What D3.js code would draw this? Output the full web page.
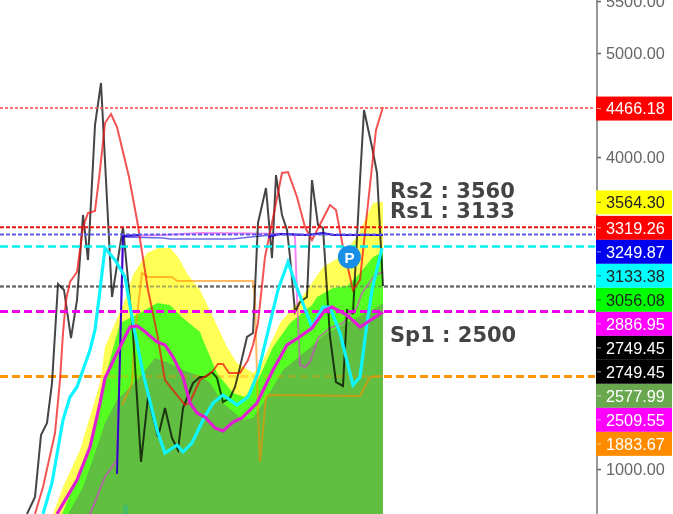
<!DOCTYPE html>
<html><head><meta charset="utf-8">
<script src="https://cdn.jsdelivr.net/npm/d3@7/dist/d3.min.js"></script>
<style>html,body{margin:0;padding:0;background:#fff;overflow:hidden}svg{display:block;filter:blur(0.4px)}</style>
</head><body><svg id="c" width="673" height="514"></svg>
<script>
// Series: [bar, price]
const closeLine=[[13.5,568],[17.5,731],[20.5,1327],[23.5,1443],[26,1827],[29,2779],[32,2722],[35.5,2260],[38.5,2625],[41.5,3443],[44,3010],[47.5,4308],[50.5,4712],[56,2654],[61.5,3327],[66.5,2308],[70.5,1068],[74,1693],[79,1308],[82.5,1587],[86,1299],[89,1183],[91.5,1587],[96.5,1827],[100,1885],[102.5,1885],[106,1933],[108.5,1876],[111.5,1645],[115,1683],[117.5,1789],[120,1981],[123.5,2270],[126.5,2308],[129,3366],[133,3702],[136,3029],[138,3827],[141,3443],[143.5,3299],[145,3039],[147.5,2510],[150,2606],[153.5,2654],[156,3779],[159,3347],[161.5,3318],[165,2270],[168,1837],[171.5,1799],[173.5,2529],[176.5,2500],[180,3779],[182,4452],[186,4097],[188.5,3847],[191.5,2760]];
const redLine=[[17.5,568],[21.5,828],[27.5,1347],[30,1856],[31.5,2308],[33,2626],[35,2799],[38.5,2895],[41.5,3327],[44,3462],[47.5,3481],[50,3875],[52.5,4327],[55.5,4414],[58.5,4289],[61.5,4049],[64.5,3808],[68.5,3395],[74,2722],[78.5,2308],[82.5,1856],[86.5,1760],[92.5,1616],[95,1645],[100,1856],[106,1933],[109,2010],[111.5,2010],[114.5,1924],[120,1924],[124,2049],[126.5,2193],[129,2404],[132.5,3039],[136,3366],[141,3847],[144,3856],[148.5,3616],[152.5,3327],[156,3202],[165,3539],[168,3491],[171.5,3135],[176.5,2722],[180,2818],[183.5,3462],[188,4260],[191.5,4481]];
const orangeLine=[[61,1616],[66,1827],[67.5,2308],[70,2722],[71,2885],[74,2847],[86,2847],[88.5,2808],[126.5,2808],[127.5,2626],[129,1539],[130,1068],[133,1693],[135,1712],[180,1702],[185,1885],[191.5,1895]];
const violetLine=[[45,568],[52.5,924],[58.5,1087],[61.5,3241],[81.5,3250],[100,3270],[146.5,3260],[147.5,3231],[148.5,2654],[150,2000],[152.5,1981],[155,2029],[159,2260],[165,2356],[171.5,2404],[178.5,2558],[181,2693],[187.5,2866],[191.5,2895]];
const lightBlueLine=[[61.5,3231],[81.5,3222],[85,3212],[116,3212],[135,3250],[140,3260],[153.5,3250],[161.5,3270],[166.5,3250],[191.5,3250]];
const darkBlueA=[[58.5,953],[61.5,3241],[70,3250]];
const darkBlueB=[[134,3231],[140,3260],[153.5,3250],[161.5,3270],[166.5,3250],[191.5,3250]];
const cyanLine=[[21.5,568],[26,866],[31.5,1472],[35,1693],[38.5,1789],[45,2145],[47.5,2337],[50,2722],[52.5,3125],[57.5,3010],[62.5,2847],[66.5,2404],[71.5,1924],[78.5,1376],[82.5,1154],[88.5,1231],[91.5,1164],[96,1251],[101.5,1472],[106.5,1635],[111.5,1712],[118.5,1616],[124,1693],[129,1924],[135,2404],[139,2722],[144,2991],[148.5,2741],[156,2366],[161.5,2558],[165,2558],[170,2308],[176.5,1808],[180,1885],[183.5,2404],[186,2722],[191,3125]];
const magentaLine=[[28.5,568],[38.5,895],[45,1212],[50,1635],[52.5,1876],[58.5,2116],[65,2366],[68.5,2376],[71.5,2337],[78.5,2222],[82.5,2193],[86.5,2077],[91.5,1885],[95,1635],[98.5,1539],[102.5,1501],[107.5,1395],[111.5,1366],[116.5,1452],[121,1491],[128.5,1635],[136.5,1952],[143.5,2193],[149,2260],[156,2356],[162.5,2529],[166,2558],[173.5,2481],[180,2366],[191.5,2510]];
const yellowArea=[[26.5,568],[31.5,828],[40,1183],[50,1827],[52.5,2174],[57.5,2404],[62.5,2626],[66.5,2866],[73.5,3077],[79,3125],[85,3125],[89,3039],[94,2866],[100,2722],[106.5,2462],[113.5,2174],[118.5,2020],[126.5,1924],[130,1981],[140,2404],[151,2654],[161.5,2943],[170,3039],[178.5,3231],[186.5,3558],[191.5,3568]];
const greenArea=[[31,568],[39,943],[45,1212],[50,1616],[54,1981],[60,2404],[70,2500],[78.5,2597],[85,2577],[91.5,2452],[100,2318],[101.5,2241],[108.5,1924],[116.5,1731],[122.5,1693],[129,1856],[136.5,2174],[145,2404],[156,2577],[158.5,2654],[166.5,2741],[173.5,2760],[180,2885],[186.5,3039],[191.5,3087]];
const darkGreenArea=[[34,568],[41.5,828],[48.5,1212],[52.5,1443],[58.5,1664],[70,1885],[77.5,2068],[83.5,2029],[91.5,1952],[100,1895],[105,1827],[111.5,1635],[121.5,1472],[126.5,1491],[133.5,1693],[141.5,1952],[153.5,2145],[163.5,2308],[173.5,2404],[188.5,2558],[191.5,2597]];
const volumeBar={from:61.5,to:64,value:655};
const axisTicks=[1000,4000,5000,5500];
const hLevels=[
 {v:4466.18,c:"#ff4444",w:1.5,d:"3,2"},
 {v:3319.26,c:"#f01010",w:2,d:"4,2"},
 {v:3249.87,c:"#5a5af0",w:2,d:"4,2"},
 {v:3133.38,c:"#00f0f0",w:2.5,d:"8,4"},
 {v:2749.45,c:"#666666",w:2,d:"4,2",soft:true},
 {v:2509.55,c:"#ee00ee",w:3,d:"8,4"},
 {v:1883.67,c:"#ff9500",w:3,d:"8,4",soft:true}];
const badges=[
 {v:4466.18,bg:"#ff0000",fg:"#fff"},
 {v:3564.30,bg:"#ffff00",fg:"#222"},
 {v:3319.26,bg:"#ff0000",fg:"#fff"},
 {v:3249.87,bg:"#0000ee",fg:"#fff"},
 {v:3133.38,bg:"#00ffff",fg:"#222"},
 {v:3056.08,bg:"#00ff00",fg:"#222"},
 {v:2886.95,bg:"#ff00ff",fg:"#fff"},
 {v:2749.45,bg:"#000000",fg:"#fff"},
 {v:2749.45,bg:"#000000",fg:"#fff"},
 {v:2577.99,bg:"#6aa84f",fg:"#fff"},
 {v:2509.55,bg:"#ff00ff",fg:"#fff"},
 {v:1883.67,bg:"#ff8c00",fg:"#fff"}];
const notes=[{t:"Rs2 : 3560",v:3610},{t:"Rs1 : 3133",v:3418},{t:"Sp1 : 2500",v:2220}];
const pivot={bar:174.7,v:3039,label:"P"};

const svg=d3.select("#c");
const x=d3.scaleLinear().domain([0,191.5]).range([0,383]);
const y=d3.scaleLinear().domain([568,5510]).range([514,0]);
const axisX=597,plotEnd=595;
const line=d3.line().x(d=>x(d[0])).y(d=>y(d[1]));
const area=d3.area().x(d=>x(d[0])).y0(514).y1(d=>y(d[1]));

function level(sel,l,op){
  const ly=y(l.v)-0.6;
  sel.append("line").attr("x1",0).attr("x2",plotEnd).attr("y1",ly).attr("y2",ly)
   .attr("stroke",l.c).attr("stroke-width",l.w).attr("stroke-dasharray",l.d).attr("opacity",op);
}
const under=svg.append("g");
hLevels.filter(l=>l.soft).forEach(l=>level(under,l,1));

[[yellowArea,"#ffff55"],[greenArea,"#55ff22"],[darkGreenArea,"#60be40"]].forEach(([d,c])=>{
  svg.append("path").attr("d",area(d)).attr("fill",c);
});
svg.append("rect").attr("x",x(volumeBar.from)).attr("width",x(volumeBar.to)-x(volumeBar.from))
  .attr("y",y(volumeBar.value)).attr("height",514-y(volumeBar.value)).attr("fill","#44bb66");

const over=svg.append("g");
hLevels.filter(l=>l.soft).forEach(l=>level(over,l,l.c==="#666666"?0.55:0.3));

function path(d,c,w,op){
  svg.append("path").attr("d",line(d)).attr("fill","none").attr("stroke",c).attr("stroke-width",w)
    .attr("stroke-linejoin","miter").attr("opacity",op);
}
path(orangeLine,"#ff8c00",2,0.6);
path(violetLine,"#ee22ee",2,0.55);
path(lightBlueLine,"#3a3ae0",1.5,0.75);
path(closeLine,"#000",2,0.73);
path(redLine,"#ee1111",2,0.72);
path(darkBlueA,"#2a00c8",2,0.95);
path(darkBlueB,"#2a00c8",2,0.9);
hLevels.filter(l=>!l.soft).forEach(l=>level(svg,l,1));
path(cyanLine,"#10f4ff",3.2,1);
path(magentaLine,"#e01fd2",3.2,1);

svg.append("circle").attr("cx",x(pivot.bar)).attr("cy",y(pivot.v)).attr("r",11.5).attr("fill","#1a8fe8");
svg.append("text").attr("x",x(pivot.bar)).attr("y",y(pivot.v)+5.5).attr("text-anchor","middle")
  .attr("font-family","Liberation Sans").attr("font-weight","bold").attr("font-size",15).attr("fill","#fff").text(pivot.label);

notes.forEach(n=>svg.append("text").attr("x",390).attr("y",y(n.v))
  .attr("font-family","DejaVu Sans").attr("font-weight","bold").attr("font-size",21).attr("fill","#444").text(n.t));

const axis=d3.axisRight(y).tickValues(axisTicks).tickFormat(d3.format(".2f")).tickSize(4).tickPadding(5);
const ag=svg.append("g").attr("transform",`translate(${axisX},0)`).call(axis);
ag.select(".domain").remove();
ag.selectAll(".tick line").attr("stroke","#666").attr("stroke-width",1.5);
ag.selectAll("text").attr("font-family","Liberation Sans").attr("font-size",16.3).attr("fill","#666");
svg.append("line").attr("x1",axisX).attr("x2",axisX).attr("y1",0).attr("y2",514).attr("stroke","#777").attr("stroke-width",1.5);

let prev=-100;
badges.forEach(b=>{
  const cy=Math.max(y(b.v),prev+24); prev=cy;
  svg.append("rect").attr("x",596).attr("y",cy-12).attr("width",76).attr("height",24).attr("fill",b.bg);
  svg.append("line").attr("x1",597).attr("x2",601).attr("y1",cy).attr("y2",cy).attr("stroke",b.fg).attr("opacity",.6);
  svg.append("text").attr("x",606).attr("y",cy).attr("dy","0.36em").attr("font-family","Liberation Sans")
    .attr("font-size",16.3).attr("fill",b.fg).text(b.v.toFixed(2));
});
</script></body></html>
